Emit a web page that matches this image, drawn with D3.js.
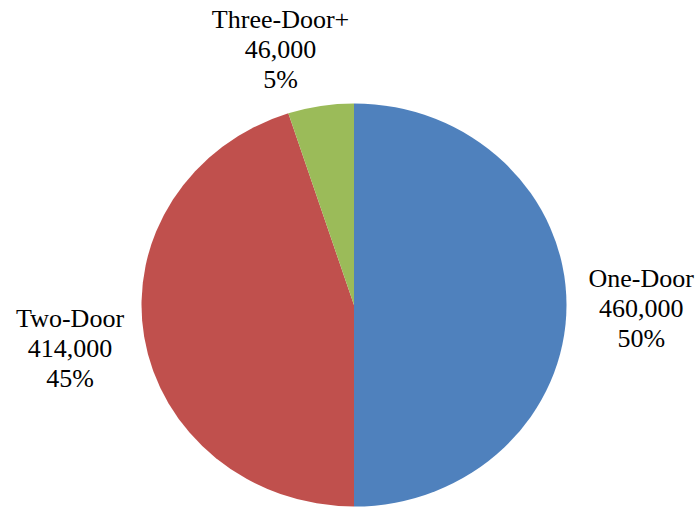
<!DOCTYPE html>
<html>
<head>
<meta charset="utf-8">
<script src="https://cdn.jsdelivr.net/npm/d3@7"></script>
<style>
  html, body { margin: 0; padding: 0; background: #fff; }
  svg { display: block; }
</style>
</head>
<body>
<svg id="chart" width="696" height="508"></svg>
<script>
// ---- data ----
const categories = ["One-Door", "Two-Door", "Three-Door+"];
const values = [460000, 414000, 46000];
const colors = ["#4F81BD", "#C0504D", "#9BBB59"];

// ---- layout ----
const cx = 354, cy = 305;
const rx = 212.5, ry = 201.5;
const gap = 22;
const lineH = 30;
// small per-label nudges to mimic the original placement
const nudges = [[0, 4], [1, 2], [-26, 10]];

const svg = d3.select("#chart");
const total = d3.sum(values);
const data = categories.map((c, i) => ({ name: c, value: values[i], color: colors[i] }));

const pie = d3.pie().value(d => d.value).sort(null);
const arcs = pie(data);
const arc = d3.arc().innerRadius(0).outerRadius(ry);

const g = svg.append("g")
  .attr("transform", `translate(${cx},${cy}) scale(${rx / ry},1)`);

g.selectAll("path")
  .data(arcs)
  .join("path")
  .attr("d", arc)
  .attr("fill", d => d.data.color);

const fmt = d3.format(",");
const pct = d3.format(".0%");

const labels = svg.append("g").attr("text-anchor", "middle");

arcs.forEach((a, i) => {
  const mid = (a.startAngle + a.endAngle) / 2;
  const s = Math.sin(mid), c = -Math.cos(mid);
  const lines = [a.data.name, fmt(a.data.value), pct(a.data.value / total)];
  const t = labels.append("text")
    .style("font-family", '"Liberation Serif"')
    .style("font-size", "26px")
    .style("fill", "#000");
  const spans = lines.map(l => t.append("tspan").attr("x", 0).text(l));
  const w = d3.max(spans, sp => sp.node().getComputedTextLength());
  const h = lines.length * lineH;
  const ax = cx + s * (rx + gap), ay = cy + c * (ry + gap);
  const bx = ax + s * w / 2 + nudges[i][0];
  const by = ay + c * h / 2 + nudges[i][1];
  spans.forEach((sp, j) => sp.attr("x", bx).attr("y", by + 8 + (j - 1) * lineH));
});
</script>
</body>
</html>
